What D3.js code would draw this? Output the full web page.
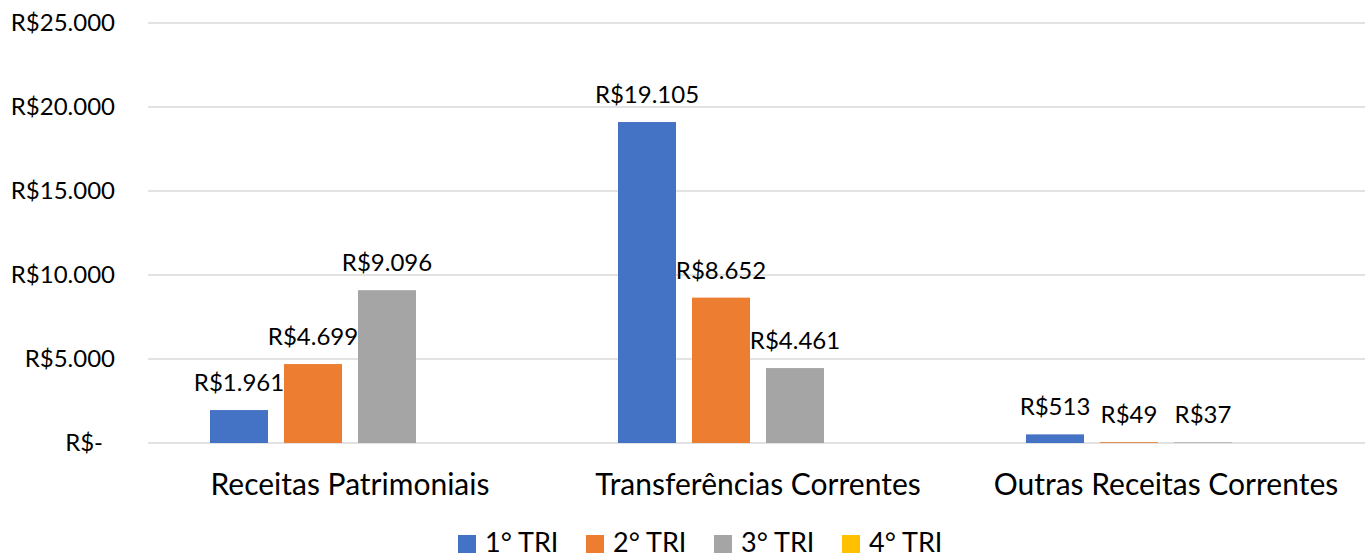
<!DOCTYPE html>
<html>
<head>
<meta charset="utf-8">
<script src="https://cdn.jsdelivr.net/npm/d3@7"></script>
<style>
  body { margin: 0; background: #fff; }
  svg text { font-family: Lato, "Open Sans", sans-serif; fill: #000; }
</style>
</head>
<body>
<svg id="chart" width="1365" height="559"></svg>
<script>
var categories = ["Receitas Patrimoniais", "Transferências Correntes", "Outras Receitas Correntes"];
var series = ["1° TRI", "2° TRI", "3° TRI", "4° TRI"];
var colors = ["#4472C4", "#ED7D31", "#A5A5A5", "#FFC000"];
var tri1 = [1961, 19105, 513];
var tri2 = [4699, 8652, 49];
var tri3 = [9096, 4461, 37];
var tri4 = [null, null, null];
var yTicks = [0, 5000, 10000, 15000, 20000, 25000];

var values = [tri1, tri2, tri3, tri4];
var svg = d3.select("#chart");

var y = d3.scaleLinear().domain([0, 25000]).range([443, 23]);
var x0 = d3.scaleBand().domain(categories).range([146, 1370]);
var x1 = d3.scaleBand().domain(series).range([64, 344]).paddingInner(16 / 74);

var fmt = function(v) {
	if (v === 0) return "R$-";
	return "R$" + d3.format(",")(v).replace(/,/g, ".");
};

// gridlines
var grid = svg.append("g");
yTicks.forEach(function(t) {
	grid.append("line").attr("x1", 148).attr("x2", 1365)
		.attr("y1", y(t)).attr("y2", y(t))
		.attr("stroke", "#d9d9d9").attr("stroke-width", 1.5);
});

// y labels
var yl = svg.append("g");
yTicks.forEach(function(t) {
	yl.append("text").attr("x", t === 0 ? 103 : 115).attr("y", y(t)).attr("dy", "0.35em")
		.attr("text-anchor", "end").attr("font-size", 24).text(fmt(t));
});

// bars + labels
var bars = svg.append("g");
categories.forEach(function(c, ci) {
	series.forEach(function(s, si) {
		var v = values[si][ci];
		if (v == null) return;
		var bx = x0(c) + x1(s);
		bars.append("rect").attr("x", bx).attr("y", y(v))
			.attr("width", x1.bandwidth()).attr("height", y(0) - y(v))
			.attr("fill", colors[si]);
		bars.append("text").attr("x", bx + x1.bandwidth() / 2).attr("y", y(v) - 19)
			.attr("text-anchor", "middle").attr("font-size", 24).text(fmt(v));
	});
});

// category labels
var xl = svg.append("g");
categories.forEach(function(c) {
	xl.append("text").attr("x", x0(c) + x0.bandwidth() / 2).attr("y", 495)
		.attr("text-anchor", "middle").attr("font-size", 30).text(c);
});

// legend
var lg = svg.append("g");
series.forEach(function(s, i) {
	var lx = 458 + i * 128;
	lg.append("rect").attr("x", lx).attr("y", 535).attr("width", 18).attr("height", 18).attr("fill", colors[i]);
	lg.append("text").attr("x", lx + 27).attr("y", 552)
		.attr("font-size", 27).text(s);
});
</script>
</body>
</html>
